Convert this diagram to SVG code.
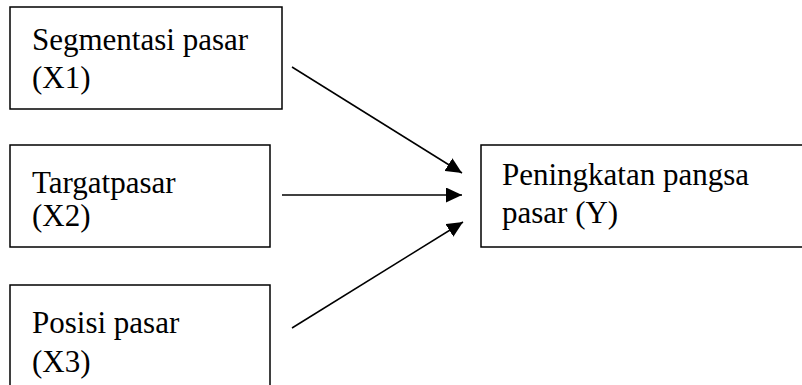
<svg xmlns="http://www.w3.org/2000/svg" width="802" height="385" viewBox="0 0 802 385">
  <style>
    .box { fill: #ffffff; stroke: #000000; stroke-width: 1.5; }
    .label { font-family: "Liberation Serif", "Times New Roman", serif; font-size: 31px; fill: #000000; }
    .edge { stroke: #000000; stroke-width: 1.5; fill: none; marker-end: url(#arrow); }
  </style>
  <defs>
    <marker id="arrow" viewBox="0 0 16 15" refX="16" refY="7.5" markerWidth="16" markerHeight="15" markerUnits="userSpaceOnUse" orient="auto">
      <path d="M0,0 L16,7.5 L0,15 Z" fill="#000000"/>
    </marker>
  </defs>
  <rect width="802" height="385" fill="#ffffff"/>

  <g id="node-x1">
    <rect class="box" x="10" y="7" width="272" height="102"/>
    <text class="label" x="32" y="50">Segmentasi pasar</text>
    <text class="label" x="32" y="88">(X1)</text>
  </g>

  <g id="node-x2">
    <rect class="box" x="10" y="145" width="260" height="102"/>
    <text class="label" x="32" y="193">Targatpasar</text>
    <text class="label" x="32" y="226">(X2)</text>
  </g>

  <g id="node-x3">
    <rect class="box" x="10" y="285" width="260" height="110"/>
    <text class="label" x="32" y="333">Posisi pasar</text>
    <text class="label" x="32" y="372">(X3)</text>
  </g>

  <g id="node-y">
    <rect class="box" x="481" y="145" width="330" height="102"/>
    <text class="label" x="502" y="185">Peningkatan pangsa</text>
    <text class="label" x="502" y="223">pasar (Y)</text>
  </g>

  <g id="connectors">
    <line class="edge" x1="292" y1="67" x2="462" y2="173"/>
    <line class="edge" x1="282" y1="195" x2="462" y2="195"/>
    <line class="edge" x1="292" y1="328" x2="463" y2="222"/>
  </g>
</svg>
